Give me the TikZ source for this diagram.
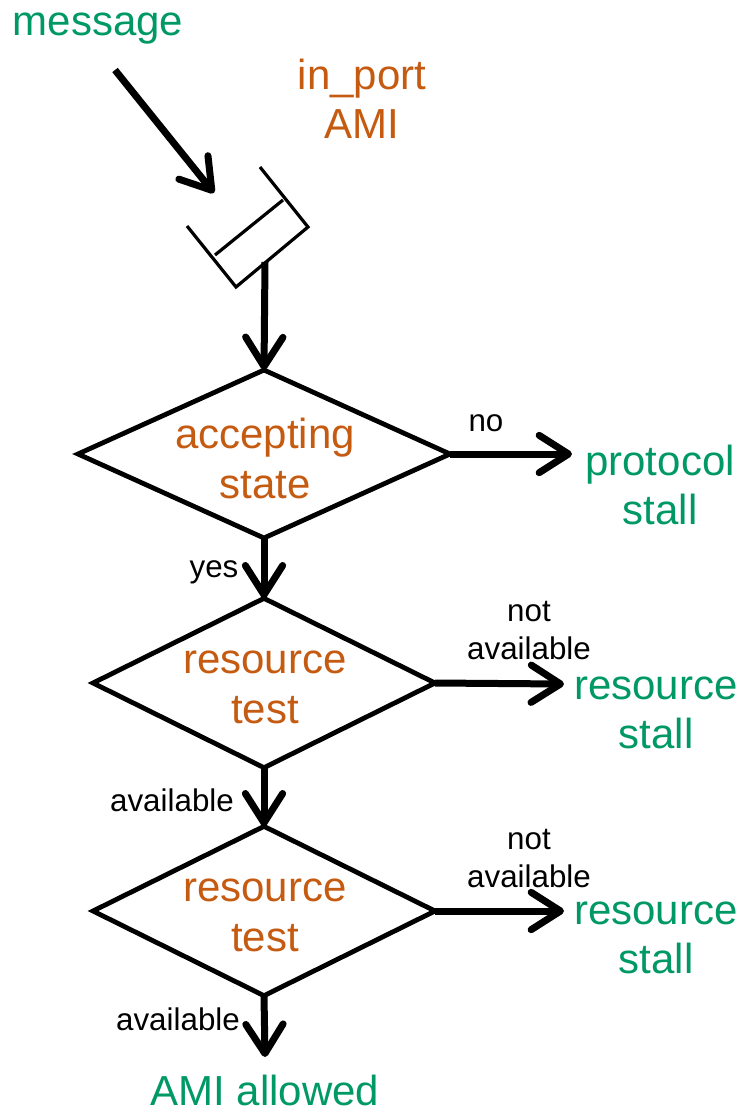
\documentclass[tikz,border=0pt]{standalone}
\usepackage{fontspec}
\setmainfont{Liberation Sans}
\usetikzlibrary{arrows.meta,shapes.geometric}
\definecolor{ora}{RGB}{197,90,17}
\definecolor{grn}{RGB}{0,153,102}
\tikzset{
  big/.style={font=\fontsize{31.5}{36.5}\selectfont, align=center, inner sep=0pt},
  small/.style={font=\fontsize{23.5}{28.5}\selectfont, align=center, inner sep=0pt, text=black},
  dec/.style={rectangle, inner sep=0pt, outer sep=0pt, text=ora,
              font=\fontsize{31.5}{37.5}\selectfont, align=center},
  decline/.style={line width=3.6pt, line join=miter},
  arr/.style={line width=5.25pt, -{Straight Barb[length=22pt,width=28pt,round]}},
  portline/.style={line width=2.4pt, line join=miter}
}
\begin{document}
\begin{tikzpicture}[x=0.75pt,y=-0.75pt]
\useasboundingbox (0,0) rectangle (744,1115);
% texts
\node[big, text=grn] (msg) at (98,29) {message};
\node[big, text=ora] (inport) at (362,99) {in\_port\\AMI};
% port
\draw[portline] (260,167) -- (308,227) -- (236,287) -- (187,226);
\draw[portline] (215,255) -- (283,200);
\coordinate (msgstart) at (115,70);
\coordinate (msgend) at (214,193);
\coordinate (portout) at (265,262);
\draw[arr] (msgstart) -- (msgend);
% diamonds
\node[dec, minimum width=279pt, minimum height=126pt] (d1) at (264,454) {};
\node[dec, minimum width=256.5pt, minimum height=127pt] (d2) at (264,683) {};
\node[dec, minimum width=256.5pt, minimum height=127pt] (d3) at (264,911) {};
\foreach \d in {d1,d2,d3}
  \draw[decline] (\d.north) -- (\d.east) -- (\d.south) -- (\d.west) -- cycle;
\node[dec] (t1) at (265,458) {accepting\\state};
\node[dec] (t2) at (265,687) {resource\\test};
\node[dec] (t3) at (265,915) {resource\\test};
% outcomes
\node[big, text=grn] (ps) at (660,485) {protocol\\stall};
\node[big, text=grn] (rs1) at (656,713) {resource\\stall};
\node[big, text=grn] (rs2) at (656,938) {resource\\stall};
\node[big, text=grn] (ok) at (265,1090) {AMI allowed};
\coordinate (e1) at (572,454);
\coordinate (e2) at (564,684);
\coordinate (e3) at (564,911);
\coordinate (e4) at (265,1057);
% connectors
\draw[arr] (portout) -- (d1.north);
\draw[arr] (d1.east) -- (e1);
\draw[arr] (d1.south) -- (d2.north);
\draw[arr] (d2.east) -- (e2);
\draw[arr] (d2.south) -- (d3.north);
\draw[arr] (d3.east) -- (e3);
\draw[arr] (d3.south) -- (e4);
% labels
\node[small] (lno) at (486,423) {no};
\node[small] (lyes) at (214,572) {yes};
\node[small] (lna1) at (529,631) {not\\available};
\node[small] (lav1) at (172,800) {available};
\node[small] (lna2) at (529,859) {not\\available};
\node[small] (lav2) at (178,1019) {available};
\end{tikzpicture}
\end{document}
